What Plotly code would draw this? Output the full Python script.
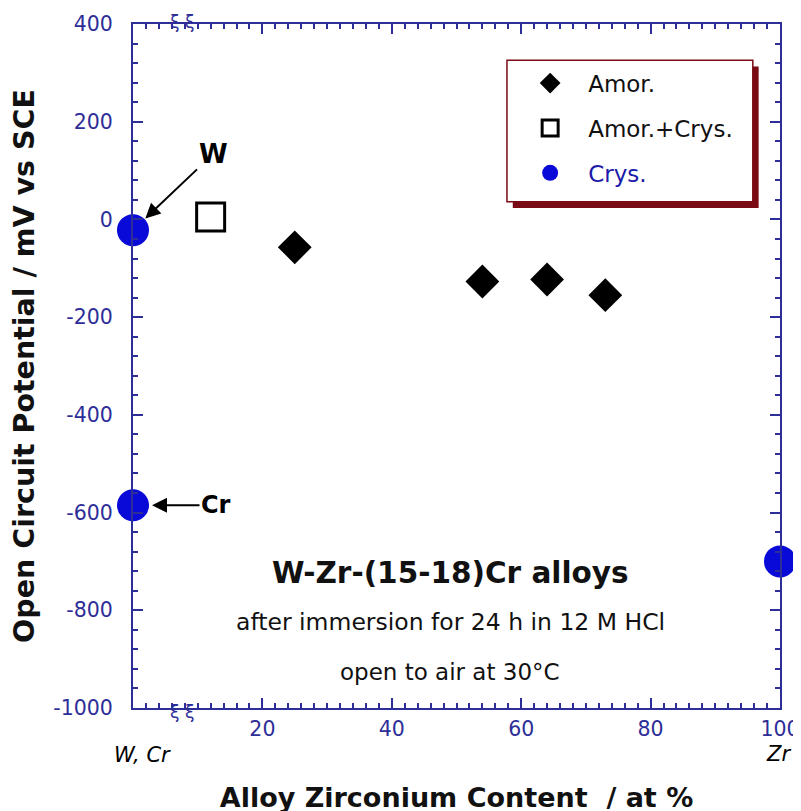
import plotly.graph_objects as go

# ---- data ----
amor_x = [25, 54, 64, 73]
amor_y = [-57, -127, -123, -155]
mix_x = [12]
mix_y = [5]
crys_x = [0, 0, 100]
crys_y = [-22, -585, -700]
crys_names = ["W", "Cr", "Zr"]

x_tickvals = [20, 40, 60, 80, 100]
x_ticktext = ["20", "40", "60", "80", "100"]
y_tickvals = [400, 200, 0, -200, -400, -600, -800, -1000]
y_ticktext = ["400", "200", "0", "-200", "-400", "-600", "-800", "-1000"]

NAVY = "#2e2e98"
BLUE = "#0a0ad8"
FONT = "DejaVu Sans"

fig = go.Figure()
fig.add_trace(go.Scatter(x=amor_x, y=amor_y, mode="markers", name="Amor.",
                         legendgroup="a",
                         marker=dict(symbol="diamond", size=26, color="black"),
                         cliponaxis=False))
fig.add_trace(go.Scatter(x=mix_x, y=mix_y, mode="markers", name="Amor.+Crys.",
                         legendgroup="b",
                         marker=dict(symbol="square-open", size=28, color="black",
                                     line=dict(width=3, color="black")),
                         cliponaxis=False))
fig.add_trace(go.Scatter(x=crys_x, y=crys_y, mode="markers",
                         name="<span style='color:#1a1aa8'>Crys.</span>",
                         legendgroup="c",
                         marker=dict(symbol="circle", size=32, color=BLUE),
                         cliponaxis=False))

axis_common = dict(showline=True, linecolor=NAVY, linewidth=2, mirror="allticks",
                   ticks="inside", tickcolor=NAVY, tickwidth=2, ticklen=10,
                   showgrid=False, zeroline=False,
                   tickfont=dict(family=FONT, size=20.5, color=NAVY))

fig.update_xaxes(range=[0, 100], tickvals=x_tickvals, ticktext=x_ticktext,
                 minor=dict(dtick=2, ticklen=5, tickcolor=NAVY, tickwidth=1.5,
                            ticks="inside", showgrid=False),
                 ticklabelstandoff=1,
                 title=dict(text="<b>Alloy Zirconium Content  / at %</b>",
                            font=dict(family=FONT, size=27, color="#111111"),
                            standoff=49),
                 **axis_common)
fig.update_yaxes(range=[-1000, 400], tickvals=y_tickvals, ticktext=y_ticktext,
                 minor=dict(dtick=40, ticklen=5, tickcolor=NAVY, tickwidth=1.5,
                            ticks="inside", showgrid=False),
                 ticklabelstandoff=14,
                 title=dict(text="<b>Open Circuit Potential / mV vs SCE</b>",
                            font=dict(family=FONT, size=28.5, color="#111111"),
                            standoff=10),
                 **axis_common)

annotations = []
# arrows to pure metals
annotations.append(dict(x=crys_x[0], y=crys_y[0], xref="x", yref="y", text="<b>W</b>",
                        showarrow=True, arrowhead=2, arrowsize=1.5, arrowwidth=2,
                        arrowcolor="black", ax=80, ay=-76, standoff=17,
                        font=dict(family=FONT, size=26, color="black")))
annotations.append(dict(x=crys_x[1], y=crys_y[1], xref="x", yref="y", text="<b>Cr</b>",
                        showarrow=True, arrowhead=2, arrowsize=1.5, arrowwidth=2,
                        arrowcolor="black", ax=83, ay=0, standoff=19,
                        font=dict(family=FONT, size=24, color="black")))
# element labels under axis ends
annotations.append(dict(x=0, y=0, xref="x", yref="paper", text="<i>W, Cr</i>",
                        showarrow=False, yshift=-47, xshift=9, yanchor="middle",
                        font=dict(family=FONT, size=21, color="black")))
annotations.append(dict(x=100, y=0, xref="x", yref="paper", text="<i>Zr</i>",
                        showarrow=False, yshift=-46, xshift=-2, yanchor="middle",
                        font=dict(family=FONT, size=21, color="black")))
# axis break marks
for yy in (0, 1):
    annotations.append(dict(x=7.5, y=yy, xref="x", yref="paper", text="ξ ξ",
                            showarrow=False, yanchor="middle",
                            yshift=-4 if yy == 0 else 2,
                            font=dict(family=FONT, size=17, color=NAVY)))
# description text
annotations.append(dict(x=0.49, y=0.197, xref="paper", yref="paper",
                        xanchor="center", yanchor="middle",
                        text="<b>W-Zr-(15-18)Cr alloys</b>", showarrow=False,
                        font=dict(family=FONT, size=29.5, color="#111111")))
annotations.append(dict(x=0.49, y=0.126, xref="paper", yref="paper",
                        xanchor="center", yanchor="middle",
                        text="after immersion for 24 h in 12 M HCl", showarrow=False,
                        font=dict(family=FONT, size=23.5, color="#111111")))
annotations.append(dict(x=0.49, y=0.053, xref="paper", yref="paper",
                        xanchor="center", yanchor="middle",
                        text="open to air at 30°C", showarrow=False,
                        font=dict(family=FONT, size=23, color="#111111")))

# legend frame with shadow
shapes = [
    dict(type="rect", xref="paper", yref="paper", x0=0.587, x1=0.967, y0=0.731, y1=0.938,
         fillcolor="#7a0a14", line=dict(width=0), layer="above"),
    dict(type="rect", xref="paper", yref="paper", x0=0.578, x1=0.958, y0=0.740, y1=0.947,
         fillcolor="white", line=dict(width=1.5, color="#7a0a14"), layer="above"),
]

# the page body adds an 8 px offset, so margins are shifted to compensate
fig.update_layout(
    width=801, height=811,
    margin=dict(l=125, r=29, t=16, b=111, autoexpand=False),
    paper_bgcolor="white", plot_bgcolor="white",
    font=dict(family=FONT),
    showlegend=True,
    legend=dict(x=0.586, y=0.945, xanchor="left", yanchor="top",
                bgcolor="rgba(0,0,0,0)", borderwidth=0,
                font=dict(family=FONT, size=23, color="#111111"),
                itemwidth=66, tracegroupgap=12),
    annotations=annotations,
    shapes=shapes,
)

fig.write_html("out.html")
